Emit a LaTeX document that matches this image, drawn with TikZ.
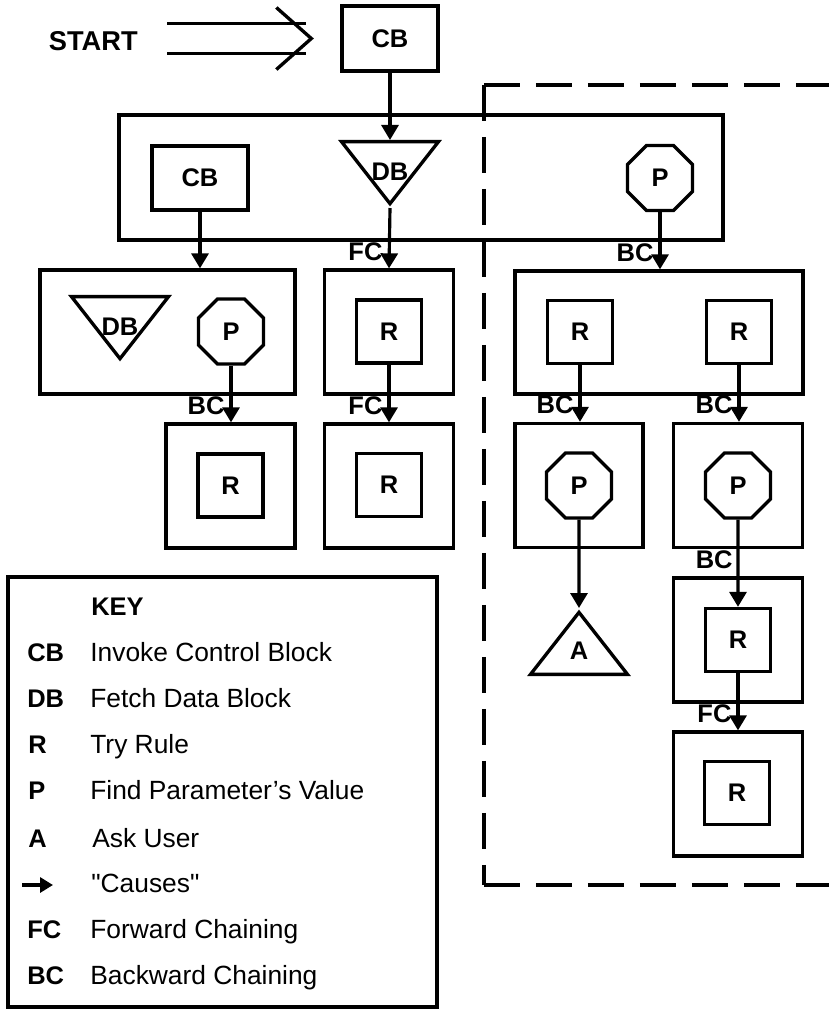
\documentclass[tikz,border=0pt]{standalone}
\usepackage{fontspec}
\setmainfont{Liberation Sans}
\usepackage{tikz}
\usetikzlibrary{shapes.geometric,positioning,arrows.meta,calc}

\tikzset{
  lbl/.style={font=\fontsize{14.5}{16}\selectfont\bfseries},
  block/.style={draw, line width=1.9pt, rectangle, inner sep=0pt},
  cell/.style={block, minimum width=2.58cm, minimum height=2.48cm},
  ctrl/.style={block, lbl, minimum width=1.92cm, minimum height=1.3cm},
  rulebox/.style={block, lbl, minimum width=1.3cm, minimum height=1.26cm},
  param/.style={draw, lbl, line width=1.9pt, regular polygon, regular polygon sides=8, minimum size=1.41cm, inner sep=0pt},
  fetch/.style={draw, line width=1.9pt, isosceles triangle, isosceles triangle stretches, shape border rotate=270, minimum width=1.94cm, minimum height=1.24cm, inner sep=0pt},
  ask/.style={fetch, shape border rotate=90},
  causes/.style={line width=1.8pt, -{Triangle[length=0.3cm, width=0.34cm]}},
  chain/.style={lbl, anchor=east, inner sep=0pt, xshift=-0.1cm, yshift=0.34cm},
  dashline/.style={line width=2pt, dash pattern=on 0.72cm off 0.32cm},
  keytxt/.style={anchor=base west, inner sep=0pt, font=\fontsize{15}{17}\selectfont},
  keysym/.style={lbl, anchor=base west, inner sep=0pt}
}

\begin{document}
\begin{tikzpicture}[x=0.02cm, y=-0.02cm]
\useasboundingbox (0,0) rectangle (829,1009);

% start
\node[lbl, anchor=east, inner sep=0pt, font=\fontsize{15.5}{17}\selectfont\bfseries] (start) at (138,41) {START};
\node[ctrl] (cb0) at (390,38.5) {CB};
\draw[line width=1.9pt] ($(start.east |- cb0.west)+(29,-15)$) -- ($(cb0.west)+(-34,-15)$);
\draw[line width=1.9pt] ($(start.east |- cb0.west)+(29,15)$) -- ($(cb0.west)+(-34,15)$);
\draw[line width=1.9pt] ($(cb0.west)+(-64,-31)$) -- ($(cb0.west)+(-29,0)$) -- ($(cb0.west)+(-64,31)$);

% first tier
\node[block, minimum width=12.08cm, minimum height=2.5cm] (tier) at (421,177.5) {};
\node[ctrl, minimum height=1.28cm] (cb1) at (200,178) {CB};
\node[fetch, anchor=apex] (db1) at (390,208) {};
\node[lbl] (db1t) at ($(db1.apex)!0.53!(db1.north)$) {DB};
\node[param] (p1) at (660,178) {P};

% second tier
\node[block, minimum width=5.1cm, minimum height=2.48cm] (lft) at (167.5,332) {};
\node[fetch, anchor=apex] (db2) at (120,363) {};
\node[lbl] (db2t) at ($(db2.apex)!0.53!(db2.north)$) {DB};
\node[param] (p2) at (231,331.5) {P};
\node[cell] (mid) at (389,332) {};
\node[rulebox] (r1) at (389,331.5) {R};
\node[block, minimum width=5.76cm, minimum height=2.46cm] (rgt) at (659,332.5) {};
\node[rulebox] (r2) at (580,332) {R};
\node[rulebox] (r3) at (739,332) {R};

% third tier
\node[cell] (lft2) at (230.5,486) {};
\node[rulebox] (r4) at (230.5,485.5) {R};
\node[cell] (mid2) at (389,486) {};
\node[rulebox] (r5) at (389,485) {R};
\node[cell, minimum width=2.56cm] (pl) at (579,485.5) {};
\node[param] (p3) at (579,485.5) {P};
\node[cell] (pr) at (738,485.5) {};
\node[param] (p4) at (738,485.5) {P};

% lower right
\node[ask, anchor=apex] (a1) at (579,608) {};
\node[lbl] (a1t) at ($(a1.apex)!0.63!(a1.south)$) {A};
\node[cell] (rr4) at (738,640) {};
\node[rulebox] (r6) at (738,640) {R};
\node[cell] (rr5) at (738,794) {};
\node[rulebox] (r7) at (737,793) {R};

% arrows
\draw[causes] (cb0.south) -- (db1.north);
\draw[causes] (cb1.south) -- (cb1.south |- lft.north);
\draw[causes] (db1.apex) -- (mid.north) node[chain] {FC};
\draw[causes] (p1.south) -- (p1.south |- rgt.north) node[chain] {BC};
\draw[causes] (p2.south) -- (p2.south |- lft2.north) node[chain] {BC};
\draw[causes] (r1.south) -- (mid2.north) node[chain] {FC};
\draw[causes] (r2.south) -- (r2.south |- pl.north) node[chain] {BC};
\draw[causes] (r3.south) -- (r3.south |- pr.north) node[chain] {BC};
\draw[causes] (p3.south) -- (a1.apex);
\draw[causes] (p4.south) -- (r6.north);
\node[chain] at (rr4.north) {BC};
\draw[causes] (r6.south) -- (rr5.north) node[chain] {FC};

% dashed region
\draw[dashline] (484,85) -- (850,85);
\draw[dashline] (484,85) -- (484,885);
\draw[dashline] (484,885) -- (850,885);

% key
\node[block, minimum width=8.58cm, minimum height=8.6cm] (key) at (222.5,792) {};
\node[keysym] (kt) at (91,615) {KEY};
\node[keysym] (k1) at (27,661) {CB};
\node[keytxt] (d1) at (90,661) {Invoke Control Block};
\node[keysym] (k2) at (27,707) {DB};
\node[keytxt] (d2) at (90,707) {Fetch Data Block};
\node[keysym] (k3) at (28,753) {R};
\node[keytxt] (d3) at (90,753) {Try Rule};
\node[keysym] (k4) at (28,799) {P};
\node[keytxt] (d4) at (90,799) {Find Parameter’s Value};
\node[keysym] (k5) at (28,847) {A};
\node[keytxt] (d5) at (92,847) {Ask User};
\coordinate (k6a) at (22,885);
\coordinate (k6b) at (53,885);
\draw[line width=1.8pt, -{Triangle[length=0.26cm, width=0.3cm]}] (k6a) -- (k6b);
\node[keytxt] (d6) at (91,892) {\textquotedbl Causes\textquotedbl};
\node[keysym] (k7) at (27,938) {FC};
\node[keytxt] (d7) at (90,938) {Forward Chaining};
\node[keysym] (k8) at (27,984) {BC};
\node[keytxt] (d8) at (90,984) {Backward Chaining};
\end{tikzpicture}
\end{document}
